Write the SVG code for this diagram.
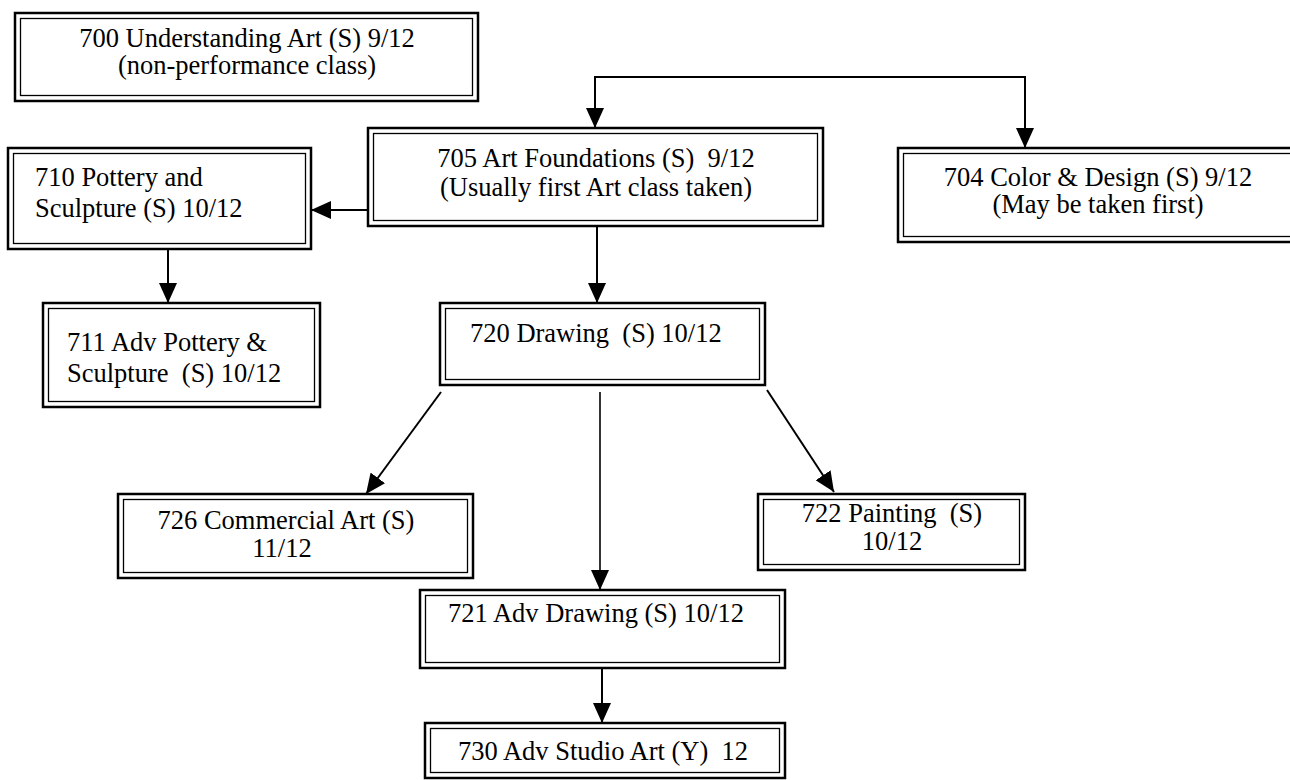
<svg xmlns="http://www.w3.org/2000/svg" width="1290" height="780" viewBox="0 0 1290 780">
<style>
.o{fill:#fff;stroke:#000;stroke-width:2.5}
.i{fill:none;stroke:#000;stroke-width:1.3}
text{font-family:"Liberation Serif","Times New Roman",serif;font-size:26.5px;fill:#000;white-space:pre}
.c{text-anchor:middle}
.ln{fill:none;stroke:#000;stroke-width:2}
.th{stroke-width:1.6}
</style>
<defs>
<marker id="ah" viewBox="0 0 20 18" markerWidth="20" markerHeight="18" refX="20" refY="9" orient="auto-start-reverse" markerUnits="userSpaceOnUse">
<path d="M0,0 L20,9 L0,18 z" fill="#000"/>
</marker>
</defs>
<rect width="1290" height="780" fill="#fff"/>
<g id="connectors">
<path class="ln" d="M595,128 V77 H1025 V148" marker-start="url(#ah)" marker-end="url(#ah)"/>
<path class="ln" d="M368,210 H311" marker-end="url(#ah)"/>
<path class="ln" d="M597,226 V303" marker-end="url(#ah)"/>
<path class="ln" d="M168,250 V303" marker-end="url(#ah)"/>
<path class="ln" d="M441,392 L366,494" marker-end="url(#ah)"/>
<path class="ln th" d="M600,392 V590" marker-end="url(#ah)"/>
<path class="ln" d="M767,390 L834,492" marker-end="url(#ah)"/>
<path class="ln" d="M602,668 V723" marker-end="url(#ah)"/>
</g>
<g id="n700">
<rect class="o" x="15" y="13" width="463" height="88"/>
<rect class="i" x="20.5" y="18.5" width="452" height="77"/>
<text class="c" x="247" y="47">700 Understanding Art (S) 9/12</text>
<text class="c" x="247" y="74">(non-performance class)</text>
</g>
<g id="n705">
<rect class="o" x="368" y="128" width="455" height="98"/>
<rect class="i" x="373.5" y="133.5" width="444" height="87"/>
<text class="c" x="596" y="167" xml:space="preserve">705 Art Foundations (S)  9/12</text>
<text class="c" x="596" y="196">(Usually first Art class taken)</text>
</g>
<g id="n704">
<rect class="o" x="898" y="148" width="400" height="94"/>
<rect class="i" x="903.5" y="153.5" width="389" height="83"/>
<text class="c" x="1098" y="186">704 Color &amp; Design (S) 9/12</text>
<text class="c" x="1098" y="213">(May be taken first)</text>
</g>
<g id="n710">
<rect class="o" x="8" y="148" width="303" height="101"/>
<rect class="i" x="13.5" y="153.5" width="292" height="90"/>
<text x="35" y="186">710 Pottery and</text>
<text x="35" y="217">Sculpture (S) 10/12</text>
</g>
<g id="n711">
<rect class="o" x="43" y="303" width="277" height="104"/>
<rect class="i" x="48.5" y="308.5" width="266" height="93"/>
<text x="67" y="351">711 Adv Pottery &amp;</text>
<text x="67" y="382" xml:space="preserve">Sculpture  (S) 10/12</text>
</g>
<g id="n720">
<rect class="o" x="440" y="303" width="325" height="82"/>
<rect class="i" x="445.5" y="308.5" width="314" height="71"/>
<text x="470" y="342" xml:space="preserve">720 Drawing  (S) 10/12</text>
</g>
<g id="n726">
<rect class="o" x="118" y="494" width="355" height="84"/>
<rect class="i" x="123.5" y="499.5" width="344" height="73"/>
<text class="c" x="286" y="529">726 Commercial Art (S)</text>
<text class="c" x="282" y="557">11/12</text>
</g>
<g id="n722">
<rect class="o" x="758" y="494" width="267" height="76"/>
<rect class="i" x="763.5" y="499.5" width="256" height="65"/>
<text class="c" x="892" y="522" xml:space="preserve">722 Painting  (S)</text>
<text class="c" x="892" y="550">10/12</text>
</g>
<g id="n721">
<rect class="o" x="420" y="590" width="365" height="78"/>
<rect class="i" x="425.5" y="595.5" width="354" height="67"/>
<text x="448" y="622">721 Adv Drawing (S) 10/12</text>
</g>
<g id="n730">
<rect class="o" x="425" y="723" width="360" height="55"/>
<rect class="i" x="430.5" y="728.5" width="349" height="44"/>
<text x="458" y="760" xml:space="preserve">730 Adv Studio Art (Y)  12</text>
</g>
</svg>
